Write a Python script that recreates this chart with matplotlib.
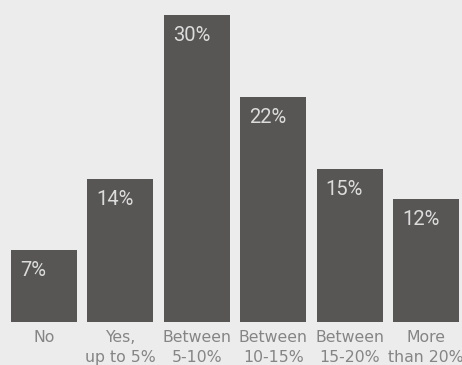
import matplotlib.pyplot as plt

categories = ["No", "Yes,\nup to 5%", "Between\n5-10%", "Between\n10-15%", "Between\n15-20%", "More\nthan 20%"]
values = [7, 14, 30, 22, 15, 12]

plt.rcParams['font.family'] = ['Roboto', 'DejaVu Sans']

fig = plt.figure(figsize=(4.62, 3.65), dpi=100, facecolor="#ececec")
ax = fig.add_axes([11 / 462, 43 / 365, 448 / 462, 307 / 365])
ax.set_facecolor("#ececec")

x = range(len(values))
bars = ax.bar(x, values, width=0.864, color="#575654")

ax.set_xlim(-0.432, len(values) - 1 + 0.432)
ax.set_ylim(0, 30)

# percent labels inside the top-left of each bar
for i, v in enumerate(values):
    ax.annotate(f"{v}%", xy=(i - 0.432, v), xytext=(6.5, -8),
                textcoords="offset points", ha="left", va="top",
                color="#dcdcdc", fontsize=14.5)

ax.set_xticks(list(x))
ax.set_xticklabels(categories, fontsize=11.3, color="#858585", linespacing=1.35,
                   family="DejaVu Sans")
ax.tick_params(axis="x", length=0, pad=6)
ax.set_yticks([])
for s in ax.spines.values():
    s.set_visible(False)

fig.savefig("out.png", dpi=100, facecolor=fig.get_facecolor())
